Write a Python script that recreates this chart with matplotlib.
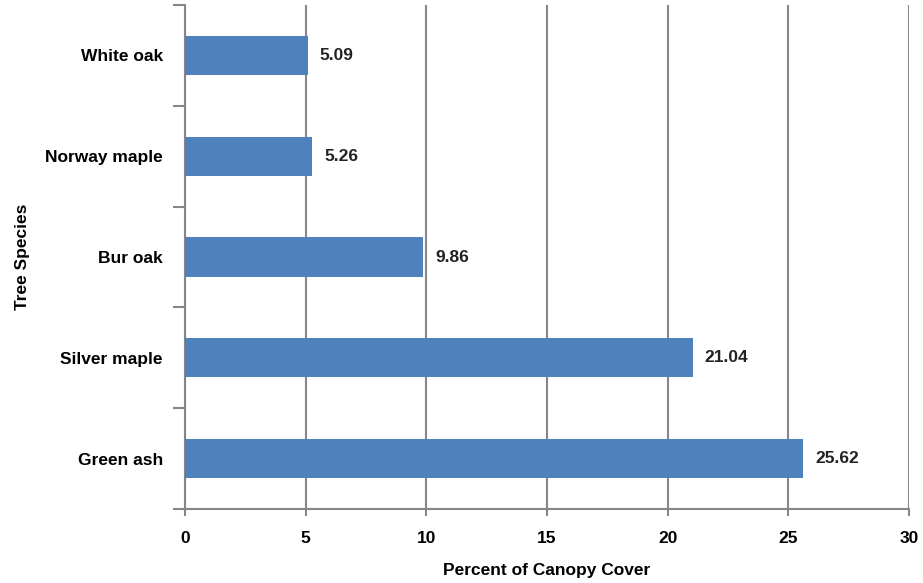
import matplotlib.pyplot as plt

species = ['Green ash', 'Silver maple', 'Bur oak', 'Norway maple', 'White oak']
cover = [25.62, 21.04, 9.86, 5.26, 5.09]
xticks = [0, 5, 10, 15, 20, 25, 30]

plt.rcParams['font.family'] = ['Liberation Sans', 'DejaVu Sans']
plt.rcParams['font.weight'] = 'bold'
fs = 12.5

fig = plt.figure(figsize=(9.23, 5.83), dpi=100)
ax = fig.add_axes([185/923, 1 - 509/583, 724/923, 504/583])

grid_col = '#868686'
pos = range(len(species))
ax.barh(pos, cover, height=0.39, color='#4F81BD', zorder=3)
for y, v in zip(pos, cover):
    ax.text(v + 0.5, y, '%.2f' % v, va='center', ha='left', fontsize=fs,
            fontweight='bold', color='#222222')

ax.set_xlim(0, 30)
ax.set_ylim(-0.5, len(species) - 0.5)
ax.set_xticks(xticks)
ax.set_xticklabels([str(t) for t in xticks], fontsize=fs, fontweight='bold')
ax.set_yticks(list(pos))
ax.set_yticklabels(species, fontsize=fs, fontweight='bold')
ax.set_yticks([i - 0.5 for i in range(len(species) + 1)], minor=True)

ax.xaxis.grid(True, color=grid_col, linewidth=1.5, zorder=0)
ax.tick_params(axis='y', which='major', length=0, pad=16)
ax.tick_params(axis='y', which='minor', length=9, width=1.5, color=grid_col)
ax.tick_params(axis='x', length=5, width=1.5, color=grid_col, pad=11)
for s in ['top', 'right']:
    ax.spines[s].set_visible(False)
for s in ['left', 'bottom']:
    ax.spines[s].set_color(grid_col)
    ax.spines[s].set_linewidth(1.5)

ax.set_xlabel('Percent of Canopy Cover', fontsize=fs, fontweight='bold', labelpad=12)
ax.set_ylabel('Tree Species', fontsize=fs, fontweight='bold', labelpad=11)

fig.savefig('out.png', dpi=100)
